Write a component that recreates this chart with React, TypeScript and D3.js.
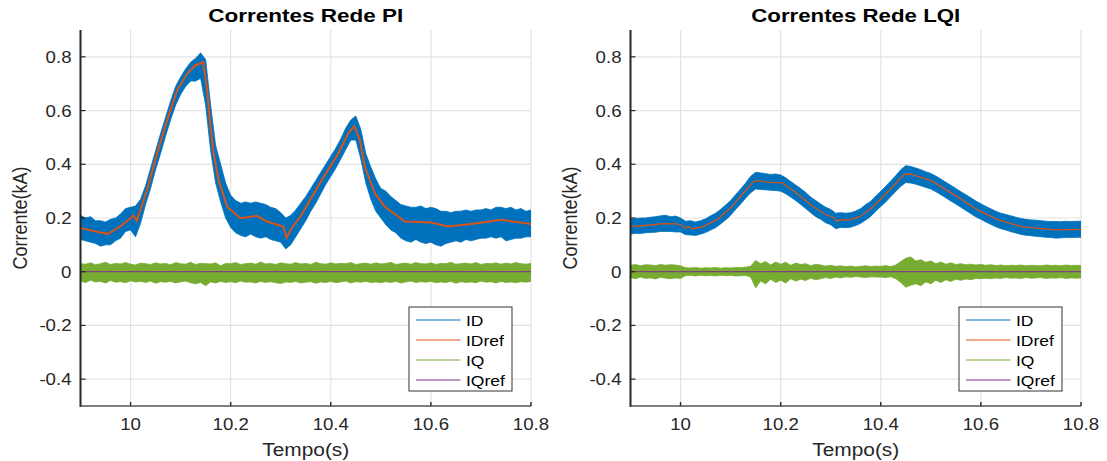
import React from 'react';
import * as d3 from 'd3';

// ---------- data ----------
const gridTime = d3.range(91).map((i) => +(9.9 + i * 0.01).toFixed(2));
const xTicks = [10, 10.2, 10.4, 10.6, 10.8];
const yTicks = [-0.4, -0.2, 0, 0.2, 0.4, 0.6, 0.8];
const legendLabels = ['ID', 'IDref', 'IQ', 'IQref'];
const seriesColors = ['#0072BD', '#D95319', '#77AC30', '#7E2F8E'];
const titles = ['Correntes Rede PI', 'Correntes Rede LQI'];

// PI: IDref (irregular time points)
const piRefT = [9.9, 9.93, 9.955, 9.98, 10.0, 10.006, 10.012, 10.033, 10.053, 10.073, 10.093, 10.113, 10.129, 10.145, 10.153, 10.159, 10.166, 10.176, 10.193, 10.219, 10.252, 10.272, 10.305, 10.312, 10.322, 10.339, 10.349, 10.382, 10.415, 10.435, 10.447, 10.458, 10.468, 10.488, 10.508, 10.548, 10.601, 10.634, 10.681, 10.741, 10.8];
const piRefV = [0.163, 0.15, 0.141, 0.17, 0.199, 0.21, 0.189, 0.304, 0.44, 0.564, 0.675, 0.737, 0.768, 0.78, 0.675, 0.552, 0.44, 0.341, 0.242, 0.199, 0.208, 0.187, 0.168, 0.127, 0.163, 0.205, 0.236, 0.341, 0.44, 0.515, 0.542, 0.49, 0.391, 0.292, 0.242, 0.187, 0.183, 0.168, 0.178, 0.193, 0.178];
// PI: ID noise envelope on gridTime
const piIdHi = [0.21, 0.2, 0.205, 0.19, 0.19, 0.185, 0.195, 0.2, 0.215, 0.235,
  0.24, 0.245, 0.27, 0.32, 0.385, 0.45, 0.515, 0.575, 0.635, 0.69,
  0.725, 0.755, 0.78, 0.795, 0.815, 0.79, 0.62, 0.47, 0.4, 0.33,
  0.285, 0.265, 0.255, 0.26, 0.255, 0.26, 0.255, 0.25, 0.24, 0.235,
  0.22, 0.2, 0.21, 0.23, 0.255, 0.28, 0.31, 0.34, 0.37, 0.4,
  0.43, 0.46, 0.495, 0.535, 0.565, 0.58, 0.53, 0.44, 0.39, 0.345,
  0.31, 0.3, 0.28, 0.265, 0.25, 0.245, 0.24, 0.24, 0.245, 0.235,
  0.24, 0.235, 0.225, 0.225, 0.22, 0.225, 0.225, 0.23, 0.225, 0.23,
  0.23, 0.235, 0.23, 0.24, 0.24, 0.235, 0.24, 0.23, 0.235, 0.225, 0.23];
const piIdLo = [0.12, 0.115, 0.11, 0.105, 0.095, 0.1, 0.1, 0.115, 0.125, 0.15,
  0.155, 0.13, 0.18, 0.25, 0.31, 0.38, 0.44, 0.505, 0.565, 0.62,
  0.66, 0.69, 0.71, 0.71, 0.72, 0.62, 0.45, 0.33, 0.26, 0.2,
  0.165, 0.145, 0.135, 0.13, 0.14, 0.13, 0.125, 0.13, 0.12, 0.115,
  0.11, 0.085, 0.1, 0.13, 0.16, 0.19, 0.225, 0.255, 0.29, 0.325,
  0.355, 0.385, 0.42, 0.455, 0.49, 0.49, 0.42, 0.33, 0.27, 0.225,
  0.2, 0.175, 0.155, 0.145, 0.125, 0.115, 0.11, 0.12, 0.11, 0.105,
  0.11, 0.1, 0.095, 0.105, 0.11, 0.115, 0.11, 0.12, 0.115, 0.12,
  0.125, 0.125, 0.13, 0.125, 0.13, 0.115, 0.12, 0.125, 0.125, 0.13, 0.13];
// PI: IQ envelope
const piIqHi = [0.03, 0.028, 0.033, 0.026, 0.03, 0.035, 0.027, 0.031, 0.029, 0.034,
  0.028, 0.025, 0.032, 0.03, 0.027, 0.033, 0.029, 0.031, 0.026, 0.034,
  0.03, 0.028, 0.035, 0.027, 0.031, 0.03, 0.029, 0.033, 0.022, 0.031,
  0.03, 0.034, 0.027, 0.03, 0.032, 0.028, 0.036, 0.029, 0.031, 0.027,
  0.033, 0.03, 0.028, 0.034, 0.029, 0.031, 0.027, 0.035, 0.03, 0.028,
  0.033, 0.029, 0.031, 0.03, 0.034, 0.027, 0.03, 0.032, 0.028, 0.033,
  0.029, 0.031, 0.035, 0.027, 0.03, 0.032, 0.028, 0.034, 0.03, 0.029,
  0.033, 0.027, 0.031, 0.03, 0.035, 0.028, 0.03, 0.032, 0.029, 0.034,
  0.027, 0.031, 0.03, 0.033, 0.028, 0.032, 0.029, 0.034, 0.03, 0.028, 0.031];
const piIqLo = [-0.035, -0.04, -0.032, -0.038, -0.036, -0.042, -0.033, -0.039, -0.037, -0.041,
  -0.034, -0.038, -0.036, -0.04, -0.035, -0.043, -0.037, -0.039, -0.036, -0.042,
  -0.038, -0.035, -0.041, -0.045, -0.04, -0.052, -0.038, -0.042, -0.036, -0.04,
  -0.037, -0.041, -0.035, -0.039, -0.038, -0.042, -0.036, -0.04, -0.037, -0.041,
  -0.044, -0.038, -0.04, -0.036, -0.042, -0.039, -0.037, -0.043, -0.038, -0.04,
  -0.036, -0.041, -0.038, -0.035, -0.042, -0.037, -0.039, -0.036, -0.04, -0.038,
  -0.041, -0.037, -0.04, -0.036, -0.042, -0.038, -0.035, -0.04, -0.037, -0.039,
  -0.036, -0.041, -0.038, -0.04, -0.036, -0.043, -0.037, -0.04, -0.038, -0.041,
  -0.035, -0.039, -0.037, -0.042, -0.036, -0.04, -0.038, -0.041, -0.037, -0.039, -0.036];

// LQI: IDref
const lqiRefT = [9.9, 9.94, 9.965, 9.992, 10.002, 10.009, 10.015, 10.025, 10.045, 10.072, 10.099, 10.125, 10.145, 10.152, 10.178, 10.202, 10.232, 10.265, 10.291, 10.305, 10.311, 10.325, 10.338, 10.358, 10.381, 10.414, 10.448, 10.461, 10.501, 10.547, 10.594, 10.634, 10.681, 10.747, 10.8];
const lqiRefV = [0.168, 0.174, 0.179, 0.178, 0.174, 0.162, 0.168, 0.16, 0.168, 0.193, 0.236, 0.292, 0.335, 0.339, 0.333, 0.332, 0.292, 0.242, 0.212, 0.203, 0.189, 0.194, 0.193, 0.205, 0.236, 0.298, 0.364, 0.362, 0.339, 0.286, 0.23, 0.193, 0.168, 0.156, 0.158];
const lqiIdHi = [0.195, 0.198, 0.2, 0.2, 0.203, 0.205, 0.208, 0.21, 0.205, 0.207,
  0.2, 0.188, 0.19, 0.185, 0.19, 0.197, 0.208, 0.218, 0.232, 0.248,
  0.265, 0.287, 0.308, 0.33, 0.355, 0.37, 0.368, 0.365, 0.362, 0.364,
  0.36, 0.35, 0.336, 0.323, 0.31, 0.295, 0.278, 0.265, 0.252, 0.24,
  0.232, 0.218, 0.22, 0.218, 0.22, 0.226, 0.235, 0.25, 0.262, 0.282,
  0.3, 0.318, 0.338, 0.358, 0.38, 0.395, 0.392, 0.386, 0.38, 0.372,
  0.366, 0.356, 0.345, 0.333, 0.322, 0.31, 0.298, 0.287, 0.275, 0.263,
  0.253, 0.243, 0.234, 0.225, 0.218, 0.213, 0.208, 0.203, 0.198, 0.195,
  0.193, 0.192, 0.19, 0.188, 0.187, 0.187, 0.186, 0.188, 0.187, 0.188, 0.188];
const lqiIdLo = [0.14, 0.143, 0.142, 0.145, 0.146, 0.147, 0.15, 0.15, 0.15, 0.148,
  0.148, 0.138, 0.137, 0.135, 0.14, 0.146, 0.155, 0.164, 0.178, 0.193,
  0.21, 0.232, 0.252, 0.274, 0.294, 0.308, 0.306, 0.305, 0.303, 0.302,
  0.3, 0.29, 0.278, 0.265, 0.25, 0.235, 0.22, 0.205, 0.195, 0.182,
  0.175, 0.16, 0.165, 0.164, 0.166, 0.172, 0.18, 0.193, 0.206, 0.225,
  0.243, 0.26, 0.28, 0.299, 0.318, 0.332, 0.33, 0.326, 0.32, 0.314,
  0.308, 0.298, 0.287, 0.275, 0.263, 0.252, 0.24, 0.228, 0.216, 0.204,
  0.195, 0.185, 0.176, 0.167, 0.16, 0.155, 0.149, 0.144, 0.139, 0.136,
  0.134, 0.132, 0.13, 0.128, 0.127, 0.125, 0.126, 0.127, 0.127, 0.128, 0.128];
const lqiIqHi = [0.024, 0.027, 0.022, 0.026, 0.025, 0.023, 0.027, 0.024, 0.026, 0.025,
  0.022, 0.015, 0.014, 0.016, 0.013, 0.015, 0.014, 0.016, 0.013, 0.015,
  0.014, 0.016, 0.015, 0.017, 0.02, 0.042, 0.03, 0.038, 0.025, 0.036,
  0.028, 0.035, 0.024, 0.032, 0.027, 0.03, 0.022, 0.028, 0.025, 0.021,
  0.024, 0.02, 0.022, 0.019, 0.021, 0.018, 0.02, 0.022, 0.019, 0.021,
  0.02, 0.023, 0.019, 0.025, 0.038, 0.05, 0.055, 0.04, 0.045, 0.035,
  0.04, 0.03, 0.036, 0.028, 0.033, 0.027, 0.03, 0.026, 0.028, 0.025,
  0.027, 0.024, 0.026, 0.023, 0.025, 0.022, 0.024, 0.023, 0.025, 0.022,
  0.024, 0.023, 0.022, 0.025, 0.023, 0.024, 0.022, 0.025, 0.023, 0.024, 0.023];
const lqiIqLo = [-0.022, -0.026, -0.02, -0.025, -0.023, -0.027, -0.021, -0.024, -0.026, -0.023,
  -0.025, -0.015, -0.014, -0.016, -0.013, -0.015, -0.014, -0.016, -0.013, -0.015,
  -0.014, -0.016, -0.015, -0.014, -0.02, -0.06, -0.035, -0.045, -0.028, -0.04,
  -0.032, -0.042, -0.026, -0.035, -0.028, -0.033, -0.024, -0.03, -0.026, -0.022,
  -0.025, -0.02, -0.023, -0.019, -0.021, -0.018, -0.02, -0.022, -0.019, -0.02,
  -0.02, -0.022, -0.019, -0.026, -0.04, -0.058, -0.05, -0.045, -0.052, -0.038,
  -0.045, -0.032, -0.04, -0.03, -0.036, -0.028, -0.032, -0.027, -0.03, -0.025,
  -0.026, -0.024, -0.026, -0.023, -0.025, -0.022, -0.024, -0.023, -0.025, -0.022,
  -0.024, -0.023, -0.022, -0.025, -0.023, -0.024, -0.022, -0.025, -0.023, -0.024, -0.023];

// ---------- drawing ----------
const FONT = '"Liberation Sans", Arial, Helvetica, sans-serif';
const SX = 1.13; // horizontal glyph stretch seen in the reference
const TXT = '#262626';

type PanelProps = {
  idx: number;
  left: number;
  right: number;
  refT: number[];
  refV: number[];
  idHi: number[];
  idLo: number[];
  iqHi: number[];
  iqLo: number[];
  titleWidth: number;
  refWidth: number;
};

function Panel({ idx, left, right, refT, refV, idHi, idLo, iqHi, iqLo, titleWidth, refWidth }: PanelProps) {
  const top = 30;
  const bottom = 406;
  const x = d3.scaleLinear().domain([9.9, 10.8]).range([left, right]);
  const y = d3.scaleLinear().domain([-0.5, 0.9]).range([bottom, top]);
  const cx = (left + right) / 2;

  const band = d3
    .area<number>()
    .x((_, i) => x(gridTime[i]))
    .y0((_, i) => y(idLo[i]))
    .y1((d) => y(d));
  const iqBand = d3
    .area<number>()
    .x((_, i) => x(gridTime[i]))
    .y0((_, i) => y(iqLo[i]))
    .y1((d) => y(d));
  const refLine = d3
    .line<number>()
    .x((_, i) => x(refT[i]))
    .y((d) => y(d));
  const zeroLine = d3.line<number>().x((d) => x(d)).y(() => y(0));

  const clipId = `clip${idx}`;
  const legX = right - 122;
  const legY = 307;

  return (
    <g>
      <defs>
        <clipPath id={clipId}>
          <rect x={left} y={top} width={right - left} height={bottom - top} />
        </clipPath>
      </defs>
      {/* grid */}
      {xTicks.map((t) => (
        <line key={'gx' + t} x1={x(t)} x2={x(t)} y1={top} y2={bottom} stroke="#e3e3e3" strokeWidth={1.2} />
      ))}
      {yTicks.map((t) => (
        <line key={'gy' + t} x1={left} x2={right} y1={y(t)} y2={y(t)} stroke="#e3e3e3" strokeWidth={1.2} />
      ))}
      <g clipPath={`url(#${clipId})`}>
        <path d={band(idHi) || ''} fill={seriesColors[0]} stroke={seriesColors[0]} strokeWidth={0.8} />
        <path d={refLine(refV) || ''} fill="none" stroke={seriesColors[1]} strokeWidth={refWidth} />
        <path d={iqBand(iqHi) || ''} fill={seriesColors[2]} stroke={seriesColors[2]} strokeWidth={0.8} />
        <path d={zeroLine([9.9, 10.8]) || ''} fill="none" stroke={seriesColors[3]} strokeWidth={1.3} opacity={0.85} />
      </g>
      {/* axes */}
      <line x1={left} x2={left} y1={top} y2={bottom + 1} stroke={TXT} strokeWidth={2} />
      <line x1={left} x2={right} y1={bottom} y2={bottom} stroke="#555" strokeWidth={1.6} />
      {yTicks.map((t) => (
        <g key={'yt' + t}>
          <line x1={left} x2={left + 5} y1={y(t)} y2={y(t)} stroke={TXT} strokeWidth={1.2} />
          <text
            transform={`translate(${left - 9},${y(t) + 6}) scale(${SX},1)`}
            textAnchor="end"
            fontFamily={FONT}
            fontSize={16.5}
            fill={TXT}
          >
            {String(t)}
          </text>
        </g>
      ))}
      {xTicks.map((t) => (
        <g key={'xt' + t}>
          <line x1={x(t)} x2={x(t)} y1={bottom} y2={bottom - 4} stroke={TXT} strokeWidth={1.4} />
          <text
            transform={`translate(${x(t)},${430}) scale(${SX},1)`}
            textAnchor="middle"
            fontFamily={FONT}
            fontSize={16.5}
            fill={TXT}
          >
            {String(t)}
          </text>
        </g>
      ))}
      {/* title */}
      <text
        x={cx}
        y={21.7}
        textAnchor="middle"
        fontFamily={FONT}
        fontWeight="bold"
        fontSize={17.5}
        fill="#000"
        textLength={titleWidth}
        lengthAdjust="spacingAndGlyphs"
      >
        {titles[idx]}
      </text>
      {/* axis labels */}
      <text
        transform={`translate(${cx},${456}) scale(${SX},1)`}
        textAnchor="middle"
        fontFamily={FONT}
        fontSize={18.5}
        fill={TXT}
      >
        Tempo(s)
      </text>
      <text
        transform={`translate(${left - 54},${(top + bottom) / 2}) scale(${SX},1) rotate(-90)`}
        textAnchor="middle"
        fontFamily={FONT}
        fontSize={18}
        fill={TXT}
      >
        Corrente(kA)
      </text>
      {/* legend */}
      <rect x={legX} y={legY} width={103} height={84} fill="#fff" stroke="#333" strokeWidth={1} />
      {legendLabels.map((lab, i) => (
        <g key={lab}>
          <line
            x1={legX + 7}
            x2={legX + 51.5}
            y1={legY + 13 + i * 20}
            y2={legY + 13 + i * 20}
            stroke={seriesColors[i]}
            strokeWidth={1}
          />
          <text
            transform={`translate(${legX + 57},${legY + 18.5 + i * 20}) scale(${SX},1)`}
            fontFamily={FONT}
            fontSize={15.5}
            fill="#000"
          >
            {lab}
          </text>
        </g>
      ))}
    </g>
  );
}

export default function App() {
  return (
    <svg
      width={1107}
      height={461}
      style={{ position: 'absolute', left: 0, top: 0, background: '#fff' }}
    >
      <rect width={1107} height={461} fill="#fff" />
      <Panel idx={0} left={80.5} right={531} refT={piRefT} refV={piRefV} idHi={piIdHi} idLo={piIdLo} iqHi={piIqHi} iqLo={piIqLo} titleWidth={195} refWidth={2} />
      <Panel idx={1} left={630.5} right={1081} refT={lqiRefT} refV={lqiRefV} idHi={lqiIdHi} idLo={lqiIdLo} iqHi={lqiIqHi} iqLo={lqiIqLo} titleWidth={209} refWidth={1.3} />
    </svg>
  );
}
